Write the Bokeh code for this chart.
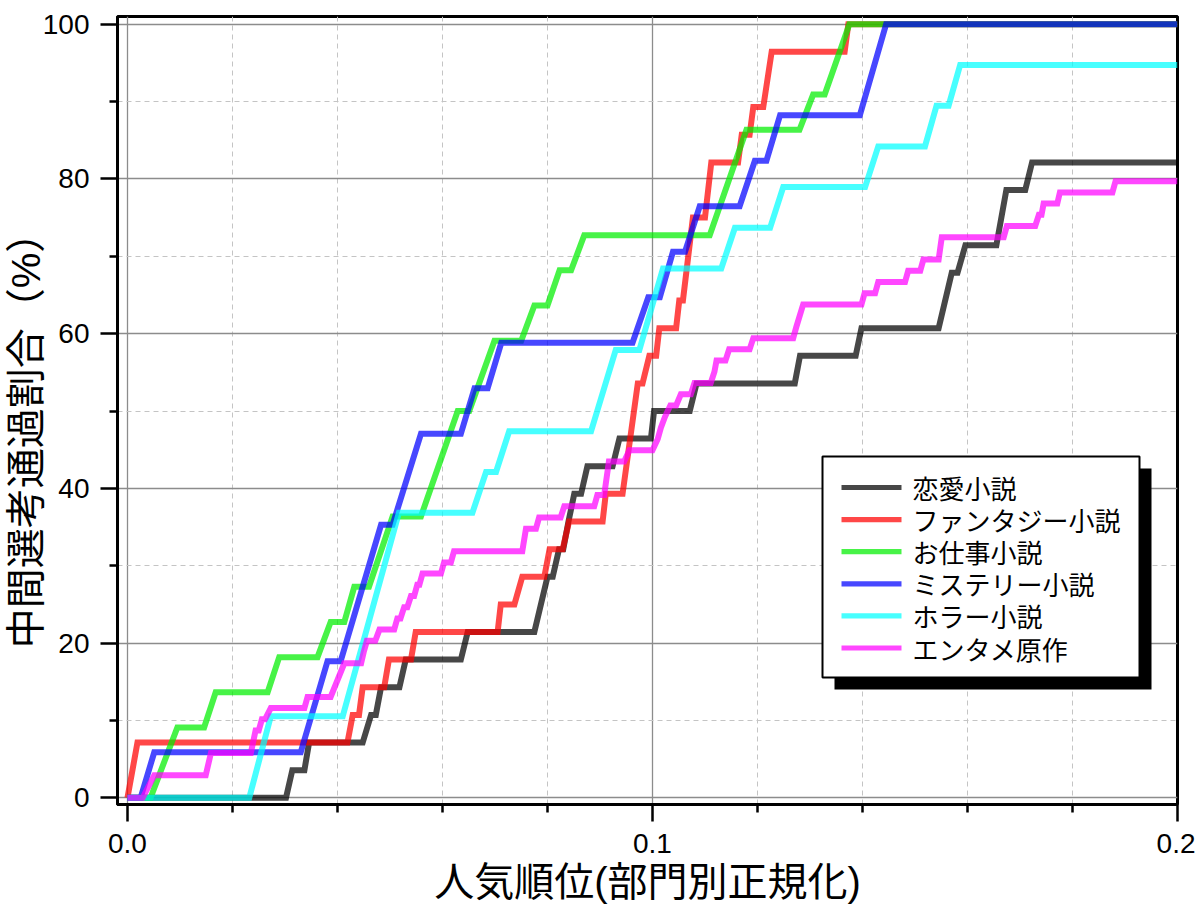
from bokeh.plotting import figure
from bokeh.models import (Range1d, FixedTicker, NumeralTickFormatter, BoxAnnotation, Label)
from bokeh.embed import file_html
from bokeh.resources import INLINE

# ---- data ----
X_TICKS = [0.0, 0.1, 0.2]
X_MINOR = [0.02, 0.04, 0.06, 0.08, 0.12, 0.14, 0.16, 0.18]
Y_TICKS = [0, 20, 40, 60, 80, 100]
Y_MINOR = [10, 30, 50, 70, 90]

X_LABEL = "人気順位(部門別正規化)"
Y_LABEL = "中間選考通過割合（%）"

NAMES = ["恋愛小説", "ファンタジー小説", "お仕事小説", "ミステリー小説", "ホラー小説", "エンタメ原作"]
COLORS = ["#000000", "#ff0000", "#00ee00", "#0000ff", "#00ffff", "#ff00ff"]

romance_x = [0, 0.0302, 0.0314, 0.0337, 0.0346, 0.0448, 0.0464, 0.0473, 0.0483, 0.0518, 0.0530,
             0.0635, 0.0648, 0.0775, 0.0800, 0.0810, 0.0822, 0.0830, 0.0840, 0.0851, 0.0864,
             0.0876, 0.0924, 0.0937, 0.0997, 0.1003, 0.1071, 0.1084, 0.1271, 0.1281, 0.1387,
             0.1398, 0.1545, 0.1570, 0.1581, 0.1596, 0.1655, 0.1674, 0.1710, 0.1723, 0.2]
romance_y = [0, 0, 3.57, 3.57, 7.14, 7.14, 10.71, 10.71, 14.29, 14.29, 17.86,
             17.86, 21.43, 21.43, 28.57, 28.57, 32.14, 32.14, 35.71, 39.29, 39.29,
             42.86, 42.86, 46.43, 46.43, 50.0, 50.0, 53.57, 53.57, 57.14, 57.14,
             60.71, 60.71, 67.86, 67.86, 71.43, 71.43, 78.57, 78.57, 82.14, 82.14]

fantasy_x = [0, 0.0019, 0.0419, 0.0429, 0.0441, 0.0448, 0.0489, 0.0498, 0.0540, 0.0549, 0.0705,
             0.0711, 0.0737, 0.0752, 0.0794, 0.0804, 0.0829, 0.0841, 0.0905, 0.0911, 0.0943,
             0.0972, 0.0981, 0.0994, 0.1007, 0.1013, 0.1045, 0.1051, 0.1058, 0.1077, 0.1100,
             0.1112, 0.1163, 0.1170, 0.1185, 0.1192, 0.1211, 0.1227, 0.1366, 0.1373, 0.2]
fantasy_y = [0, 7.14, 7.14, 10.71, 10.71, 14.29, 14.29, 17.86, 17.86, 21.43, 21.43,
             25.0, 25.0, 28.57, 28.57, 32.14, 32.14, 35.71, 35.71, 39.29, 39.29,
             53.57, 53.57, 57.14, 57.14, 60.71, 60.71, 64.29, 64.29, 75.0, 75.0,
             82.14, 82.14, 85.71, 85.71, 89.29, 89.29, 96.43, 96.43, 100, 100]

work_x = [0, 0.0044, 0.0095, 0.0146, 0.0168, 0.0267, 0.0289, 0.0362, 0.0387, 0.0413, 0.0432,
          0.0460, 0.0505, 0.0559, 0.0629, 0.0651, 0.0699, 0.0750, 0.0775, 0.0800, 0.0823,
          0.0845, 0.0870, 0.1109, 0.1179, 0.1280, 0.1306, 0.1328, 0.1375, 0.2]
work_y = [0, 0, 9.09, 9.09, 13.64, 13.64, 18.18, 18.18, 22.73, 22.73, 27.27,
          27.27, 36.36, 36.36, 50.0, 50.0, 59.09, 59.09, 63.64, 63.64, 68.18,
          68.18, 72.73, 72.73, 86.36, 86.36, 90.91, 90.91, 100, 100]

mystery_x = [0, 0.0025, 0.0051, 0.0330, 0.0381, 0.0406, 0.0483, 0.0505, 0.0559, 0.0635, 0.0661,
             0.0686, 0.0712, 0.0962, 0.0992, 0.1014, 0.1039, 0.1062, 0.1090, 0.1166, 0.1195,
             0.1217, 0.1243, 0.1395, 0.1445, 0.2]
mystery_y = [0, 0, 5.88, 5.88, 17.65, 17.65, 35.29, 35.29, 47.06, 47.06, 52.94,
             52.94, 58.82, 58.82, 64.71, 64.71, 70.59, 70.59, 76.47, 76.47, 82.35,
             82.35, 88.24, 88.24, 100, 100]

horror_x = [0, 0.0232, 0.0273, 0.0410, 0.0517, 0.0657, 0.0683, 0.0702, 0.0727, 0.0883, 0.0930,
            0.0975, 0.1020, 0.1131, 0.1157, 0.1224, 0.1249, 0.1405, 0.1430, 0.1519, 0.1541,
            0.1564, 0.1586, 0.2]
horror_y = [0, 0, 10.53, 10.53, 36.84, 36.84, 42.11, 42.11, 47.37, 47.37, 57.89,
            57.89, 68.42, 68.42, 73.68, 73.68, 78.95, 78.95, 84.21, 84.21, 89.47,
            89.47, 94.74, 94.74]

enta_x = [0, 0.0029, 0.0051, 0.0149, 0.0159, 0.0235, 0.0244, 0.0250, 0.0256, 0.0262, 0.0273,
          0.0337, 0.0343, 0.0387, 0.0413, 0.0445, 0.0450, 0.0456, 0.0472, 0.0480, 0.0508,
          0.0514, 0.0520, 0.0527, 0.0533, 0.0540, 0.0546, 0.0552, 0.0556, 0.0562, 0.0597,
          0.0603, 0.0616, 0.0622, 0.0752, 0.0759, 0.0778, 0.0784, 0.0825, 0.0832, 0.0889,
          0.0895, 0.0908, 0.0917, 0.0946, 0.0956, 0.1000, 0.1010, 0.1016, 0.1024, 0.1034,
          0.1045, 0.1054, 0.1073, 0.1080, 0.1111, 0.1118, 0.1122, 0.1139, 0.1146, 0.1185,
          0.1192, 0.1268, 0.1274, 0.1287, 0.1398, 0.1404, 0.1424, 0.1430, 0.1481, 0.1487,
          0.1510, 0.1516, 0.1545, 0.1551, 0.1669, 0.1675, 0.1729, 0.1736, 0.1741, 0.1745,
          0.1771, 0.1776, 0.1876, 0.1882, 0.2]
enta_y = [0, 0, 2.90, 2.90, 5.80, 5.80, 8.70, 8.70, 10.14, 10.14, 11.59,
          11.59, 13.04, 13.04, 17.39, 17.39, 18.84, 20.29, 20.29, 21.74, 21.74,
          23.19, 23.19, 24.64, 24.64, 26.09, 26.09, 27.54, 27.54, 28.99, 28.99,
          30.43, 30.43, 31.88, 31.88, 34.78, 34.78, 36.23, 36.23, 37.68, 37.68,
          39.13, 39.13, 43.48, 43.48, 44.93, 44.93, 46.38, 47.83, 49.28, 50.72,
          50.72, 52.17, 52.17, 53.62, 53.62, 55.07, 56.52, 56.52, 57.97, 57.97,
          59.42, 59.42, 60.87, 63.77, 63.77, 65.22, 65.22, 66.67, 66.67, 68.12,
          68.12, 69.57, 69.57, 72.46, 72.46, 73.91, 73.91, 75.36, 75.36, 76.81,
          76.81, 78.26, 78.26, 79.71, 79.71]

SERIES_X = [romance_x, fantasy_x, work_x, mystery_x, horror_x, enta_x]
SERIES_Y = [romance_y, fantasy_y, work_y, mystery_y, horror_y, enta_y]

CJK = "Liberation Sans, Noto Sans CJK JP"
LINE_ALPHA = 0.72

# ---- figure ----
p = figure(frame_width=1060, frame_height=788, output_backend="svg", toolbar_location=None,
           x_range=Range1d(-0.0019, 0.2), y_range=Range1d(-0.87, 101.0),
           min_border_left=112, min_border_right=18, min_border_top=16, min_border_bottom=60)
p.background_fill_color = "white"
p.border_fill_color = "white"
p.outline_line_color = "black"
p.outline_line_width = 3
p.outline_line_alpha = 1.0

p.xaxis.ticker = FixedTicker(ticks=X_TICKS, minor_ticks=X_MINOR)
p.yaxis.ticker = FixedTicker(ticks=Y_TICKS, minor_ticks=Y_MINOR)
p.xaxis.formatter = NumeralTickFormatter(format="0.0")

for ax in (p.xaxis[0], p.yaxis[0]):
    ax.axis_line_color = "black"
    ax.axis_line_width = 3
    ax.major_tick_line_color = "black"
    ax.major_tick_line_width = 2.5
    ax.major_tick_out = 17
    ax.major_tick_in = 0
    ax.minor_tick_line_color = "black"
    ax.minor_tick_line_width = 2.5
    ax.minor_tick_out = 8
    ax.minor_tick_in = 0
    ax.major_label_text_font = "Liberation Sans"
    ax.major_label_text_font_size = "28px"
    ax.major_label_text_color = "black"
    ax.axis_label_text_font = CJK
    ax.axis_label_text_font_size = "40px"
    ax.axis_label_text_font_style = "normal"
    ax.axis_label_text_color = "black"

p.xaxis.major_label_standoff = 12
p.yaxis.major_label_standoff = 11
p.xaxis.axis_label = X_LABEL
# trailing ideographic/en spaces push the (bottom-to-top) label slightly below the frame centre, as in the reference
p.yaxis.axis_label = Y_LABEL + "\u3000\u2002"
p.xaxis.axis_label_standoff = 4
p.yaxis.axis_label_standoff = -8

for g in (p.xgrid[0], p.ygrid[0]):
    g.grid_line_color = "#8c8c8c"
    g.grid_line_width = 1.3
    g.minor_grid_line_color = "#c4c4c4"
    g.minor_grid_line_width = 1
    g.minor_grid_line_dash = "5 4"

for xs, ys, c in zip(SERIES_X, SERIES_Y, COLORS):
    p.line(xs, ys, line_color=c, line_width=6, line_alpha=LINE_ALPHA,
           line_join="miter", line_cap="butt")

# ---- legend (drawn as screen-space annotations: shadow, box, swatches, labels) ----
LEG_LEFT, LEG_RIGHT, LEG_BOTTOM, LEG_TOP = 705, 1022, 127, 348
SHADOW_DX, SHADOW_DY = 12, -12
ROW0, ROW_STEP = 317, 32.1
SW_LEFT, SW_RIGHT, SW_HALF = 724, 784, 2.6
TXT_X = 795

p.add_layout(BoxAnnotation(left=LEG_LEFT + SHADOW_DX, right=LEG_RIGHT + SHADOW_DX,
                           bottom=LEG_BOTTOM + SHADOW_DY, top=LEG_TOP + SHADOW_DY,
                           left_units="screen", right_units="screen",
                           bottom_units="screen", top_units="screen",
                           fill_color="black", fill_alpha=1.0, line_color=None))
p.add_layout(BoxAnnotation(left=LEG_LEFT, right=LEG_RIGHT, bottom=LEG_BOTTOM, top=LEG_TOP,
                           left_units="screen", right_units="screen",
                           bottom_units="screen", top_units="screen",
                           fill_color="white", fill_alpha=1.0,
                           line_color="black", line_width=2, line_alpha=1.0))
for i, (name, c) in enumerate(zip(NAMES, COLORS)):
    yc = ROW0 - i * ROW_STEP
    p.add_layout(BoxAnnotation(left=SW_LEFT, right=SW_RIGHT, bottom=yc - SW_HALF, top=yc + SW_HALF,
                               left_units="screen", right_units="screen",
                               bottom_units="screen", top_units="screen",
                               fill_color=c, fill_alpha=LINE_ALPHA, line_color=None))
    p.add_layout(Label(x=TXT_X, y=yc, x_units="screen", y_units="screen", text=name,
                       text_align="left", text_baseline="middle",
                       text_font="Noto Sans CJK JP", text_font_size="26px",
                       text_color="black"))

open("out.html", "w").write(file_html(p, INLINE))
